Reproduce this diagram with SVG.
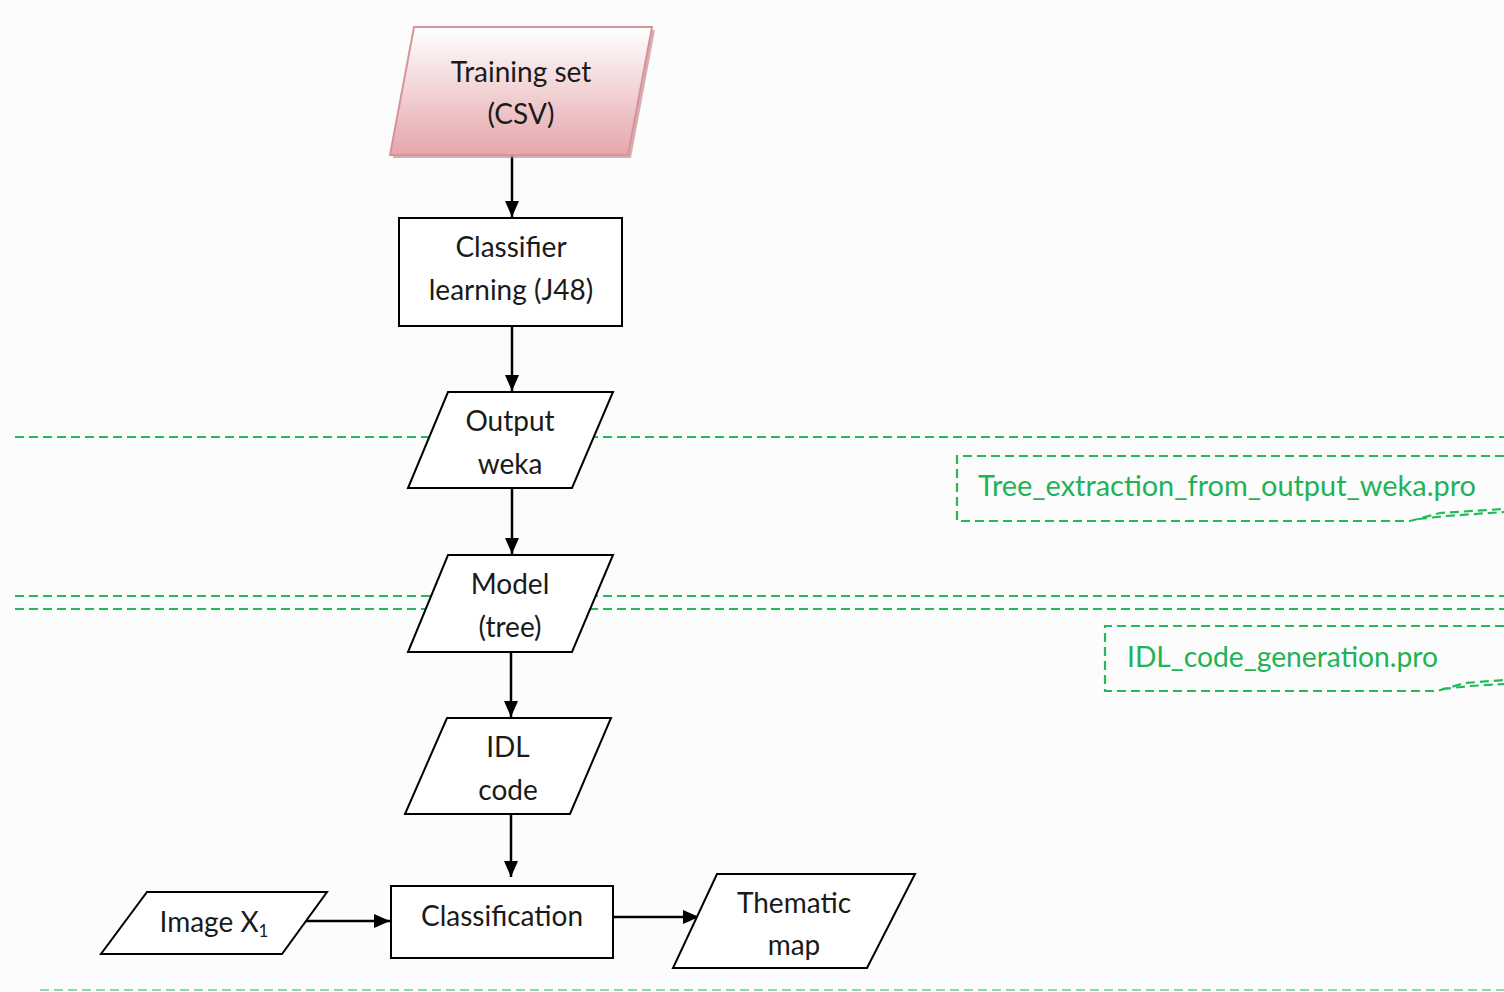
<svg xmlns="http://www.w3.org/2000/svg" width="1504" height="992" viewBox="0 0 1504 992">
  <defs>
    <linearGradient id="pinkFill" x1="0" y1="0" x2="0" y2="1">
      <stop offset="0" stop-color="#ffffff"/>
      <stop offset="1" stop-color="#e5a6ab"/>
    </linearGradient>
    <marker id="arrow" viewBox="0 0 16 14" refX="16" refY="7" markerWidth="16" markerHeight="14" markerUnits="userSpaceOnUse" orient="auto">
      <path d="M0,0 L16,7 L0,14 Z" fill="#000"/>
    </marker>
    <style>
      .shape { fill: #ffffff; stroke: #000; stroke-width: 2; }
      .label { font-family: Lato, "Open Sans", sans-serif; font-size: 28px; fill: #1a1a1a; text-anchor: middle; }
      .note { font-family: Lato, "Open Sans", sans-serif; font-size: 28.5px; fill: #1fb356; }
      .guide { stroke: #22bb58; stroke-width: 2.2; stroke-dasharray: 9 5; fill: none; }
      .guide-faint { stroke: #8ed9aa; stroke-width: 2.2; stroke-dasharray: 9 5; fill: none; }
      .link { stroke: #000; stroke-width: 2.5; fill: none; marker-end: url(#arrow); }
    </style>
  </defs>

  <rect x="0" y="0" width="1504" height="992" fill="#fcfcfc"/>

  <!-- stage separators -->
  <g id="separators">
    <line class="guide" x1="15" y1="437" x2="1504" y2="437"/>
    <line class="guide" x1="15" y1="596" x2="1504" y2="596"/>
    <line class="guide" x1="15" y1="609" x2="1504" y2="609"/>
    <line class="guide-faint" x1="40" y1="990" x2="1504" y2="990"/>
  </g>

  <!-- script callouts -->
  <g id="callout-tree-extraction">
    <path class="guide" d="M1504,456 H957 V521 H1410 L1440,513 L1504,509"/>
    <path class="guide" d="M1418,519 L1446,516 L1504,512"/>
    <text class="note" x="978" y="496" textLength="498" lengthAdjust="spacingAndGlyphs">Tree_extraction_from_output_weka.pro</text>
  </g>
  <g id="callout-idl-generation">
    <path class="guide" d="M1504,626 H1105 V691 H1437 L1465,683 L1504,680"/>
    <path class="guide" d="M1442,689 L1470,686 L1504,684"/>
    <text class="note" x="1127" y="667" textLength="311" lengthAdjust="spacingAndGlyphs">IDL_code_generation.pro</text>
  </g>

  <g id="connectors">
    <line class="link" x1="512" y1="155" x2="512" y2="217"/>
    <line class="link" x1="512" y1="326" x2="512" y2="391"/>
    <line class="link" x1="512" y1="488" x2="512" y2="554"/>
    <line class="link" x1="511" y1="652" x2="511" y2="717"/>
    <line class="link" x1="511" y1="814" x2="511" y2="877"/>
    <line class="link" x1="305" y1="921" x2="390" y2="921"/>
    <line class="link" x1="613" y1="917" x2="699" y2="917"/>
  </g>

  <g id="training-set">
    <path d="M417,30 L655,30 L631,158 L393,158 Z" fill="#c98c92" opacity="0.7"/>
    <path d="M414,27 L652,27 L628,155 L390,155 Z" fill="url(#pinkFill)" stroke="#d4959a" stroke-width="2"/>
    <text class="label" x="521" y="82">Training set</text>
    <text class="label" x="521" y="124">(CSV)</text>
  </g>

  <g id="classifier-learning">
    <rect class="shape" x="399" y="218" width="223" height="108"/>
    <text class="label" x="511" y="257">Classifier</text>
    <text class="label" x="511" y="300">learning (J48)</text>
  </g>

  <g id="output-weka">
    <path class="shape" d="M448,392 L613,392 L572,488 L408,488 Z"/>
    <text class="label" x="510" y="431">Output</text>
    <text class="label" x="510" y="474">weka</text>
  </g>

  <g id="model-tree">
    <path class="shape" d="M448,555 L613,555 L572,652 L408,652 Z"/>
    <text class="label" x="510" y="594">Model</text>
    <text class="label" x="510" y="637">(tree)</text>
  </g>

  <g id="idl-code">
    <path class="shape" d="M447,718 L611,718 L570,814 L405,814 Z"/>
    <text class="label" x="508" y="757">IDL</text>
    <text class="label" x="508" y="800">code</text>
  </g>

  <g id="image-x1">
    <path class="shape" d="M147,892 L327,892 L282,954 L101,954 Z"/>
    <text class="label" x="214" y="932">Image X<tspan font-size="17" dy="5">1</tspan></text>
  </g>

  <g id="classification">
    <rect class="shape" x="391" y="886" width="222" height="72"/>
    <text class="label" x="502" y="926">Classification</text>
  </g>

  <g id="thematic-map">
    <path class="shape" d="M717,874 L915,874 L867,968 L673,968 Z"/>
    <text class="label" x="794" y="913">Thematic</text>
    <text class="label" x="794" y="955">map</text>
  </g>
</svg>
